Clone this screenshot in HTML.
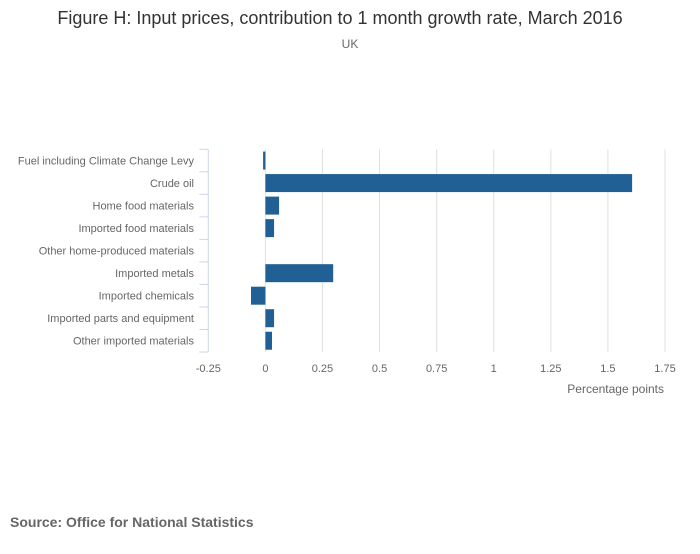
<!DOCTYPE html>
<html><head><meta charset="utf-8"><style>
body{margin:0;background:#fff;font-family:"Liberation Sans",sans-serif;}
svg text{font-family:"Liberation Sans",sans-serif;}
</style></head><body>
<svg width="700" height="549">
<text x="340" y="24" text-anchor="middle" font-size="18" fill="#333">Figure H: Input prices, contribution to 1 month growth rate, March 2016</text>
<text x="350" y="48" text-anchor="middle" font-size="12" fill="#666">UK</text>
<g id="grid"></g><g id="bars"></g><g id="yaxis"></g><g id="xaxis"></g>
<text x="664" y="393" text-anchor="end" font-size="12" fill="#666">Percentage points</text>
<text x="10" y="527" font-size="14" font-weight="bold" fill="#666">Source: Office for National Statistics</text>
</svg>
<script>
const categories=["Fuel including Climate Change Levy","Crude oil","Home food materials","Imported food materials","Other home-produced materials","Imported metals","Imported chemicals","Imported parts and equipment","Other imported materials"];
const values=[-0.01,1.606,0.06,0.038,0,0.297,-0.063,0.038,0.029];
const ticks=[-0.25,0,0.25,0.5,0.75,1,1.25,1.5,1.75];
const tickLabels=["-0.25","0","0.25","0.5","0.75","1","1.25","1.5","1.75"];
const NS="http://www.w3.org/2000/svg";
const x0=208.3,x1=665,yTop=149.3,yBot=352;
const xs=v=>x0+(v+0.25)/2*(x1-x0);
const band=(yBot-yTop)/categories.length;
function mk(t,a,p){const e=document.createElementNS(NS,t);for(const k in a)e.setAttribute(k,a[k]);document.getElementById(p).appendChild(e);return e;}
ticks.forEach((t,i)=>{
 if(i>0){const l=mk('line',{x1:xs(t),x2:xs(t),y1:yTop,y2:yBot,stroke:'#e0e0e0'},'grid');
 
 }
 const tx=mk('text',{x:xs(t),y:yBot+20,'text-anchor':'middle','font-size':11,fill:'#666'},'xaxis');tx.textContent=tickLabels[i];
 
 
});
const ax=mk('line',{x1:x0,x2:x0,y1:yTop,y2:yBot,stroke:'#ccd6eb'},'yaxis');


for(let i=0;i<=categories.length;i++){const y=yTop+i*band;const l=mk('line',{x1:x0-9,x2:x0,y1:y,y2:y,stroke:'#ccd6eb'},'yaxis');
 
 }
categories.forEach((c,i)=>{
 const yc=yTop+(i+0.5)*band;
 const t=mk('text',{x:194,y:yc+4,'text-anchor':'end','font-size':11,fill:'#666'},'yaxis');t.textContent=c;
 
 
 const v=values[i];const a=xs(Math.min(0,v)),b=xs(Math.max(0,v));
 const r=mk('rect',{x:a,y:yc-9,width:Math.max(b-a,0),height:18,fill:'#206095'},'bars');
 
 
});
</script>
</body></html>
